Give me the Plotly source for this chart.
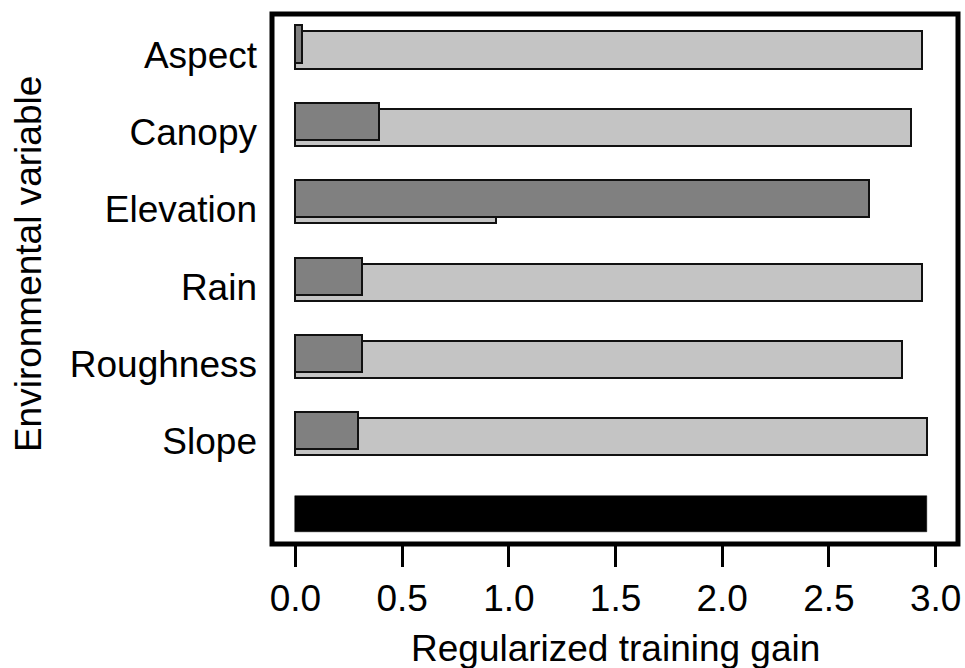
import plotly.graph_objects as go

# Data (MaxEnt jackknife of regularized training gain)
variables = ["Aspect", "Canopy", "Elevation", "Rain", "Roughness", "Slope"]
gain_without = [2.935, 2.883, 0.94, 2.935, 2.841, 2.958]   # light grey
gain_only = [0.03, 0.39, 2.687, 0.31, 0.31, 0.295]          # dark grey
gain_all = [2.958]                                           # black
x_ticks = [0.0, 0.5, 1.0, 1.5, 2.0, 2.5, 3.0]
x_ticklabels = ["0.0", "0.5", "1.0", "1.5", "2.0", "2.5", "3.0"]

rows = list(range(len(variables)))
all_row = [len(variables)]

FONT = "Liberation Sans, Arial, sans-serif"
FS = 37
BW = 0.48
SHIFT = 0.078

fig = go.Figure()
fig.add_trace(go.Bar(
    x=gain_without, y=rows, orientation="h", width=BW, offset=-BW / 2,
    marker=dict(color="#c4c4c4", line=dict(color="#111111", width=2)),
    showlegend=False, hoverinfo="x"))
fig.add_trace(go.Bar(
    x=gain_only, y=rows, orientation="h", width=BW, offset=-BW / 2 - SHIFT,
    marker=dict(color="#808080", line=dict(color="#111111", width=2)),
    showlegend=False, hoverinfo="x"))
fig.add_trace(go.Bar(
    x=gain_all, y=all_row, orientation="h", width=0.47, offset=-0.47 / 2,
    marker=dict(color="#000000", line=dict(color="#000000", width=0.5)),
    showlegend=False, hoverinfo="x"))

fig.update_layout(
    width=965, height=668,
    margin=dict(l=272, r=4, t=14, b=124, pad=0),
    paper_bgcolor="white", plot_bgcolor="white",
    barmode="overlay", bargap=0,
    font=dict(family=FONT, size=FS, color="black"),
    xaxis=dict(
        range=[-0.11, 3.105], tickvals=x_ticks, ticktext=x_ticklabels,
        ticks="outside", ticklen=22, tickwidth=3, tickcolor="black",
        showgrid=False, zeroline=False, showline=False,
        tickfont=dict(family=FONT, size=FS, color="black"),
    ),
    yaxis=dict(
        range=[6.386, -0.466], tickvals=[r + 0.06 for r in rows], ticktext=variables,
        ticks="", showgrid=False, zeroline=False, showline=False,
        ticklabelstandoff=14,
        tickfont=dict(family=FONT, size=FS, color="black"),
    ),
    shapes=[dict(type="rect", xref="paper", yref="paper", x0=0, x1=1, y0=0, y1=1,
                 line=dict(color="black", width=5), layer="above")],
    annotations=[
        dict(text="Regularized training gain", xref="paper", yref="paper",
             x=0.5, y=-0.198, xanchor="center", yanchor="middle", showarrow=False,
             font=dict(family=FONT, size=FS, color="black")),
        dict(text="Environmental variable", xref="paper", yref="paper",
             x=-0.355, y=0.529, xanchor="center", yanchor="middle", showarrow=False,
             textangle=-90, font=dict(family=FONT, size=FS, color="black")),
    ],
)

fig.write_html("out.html")
